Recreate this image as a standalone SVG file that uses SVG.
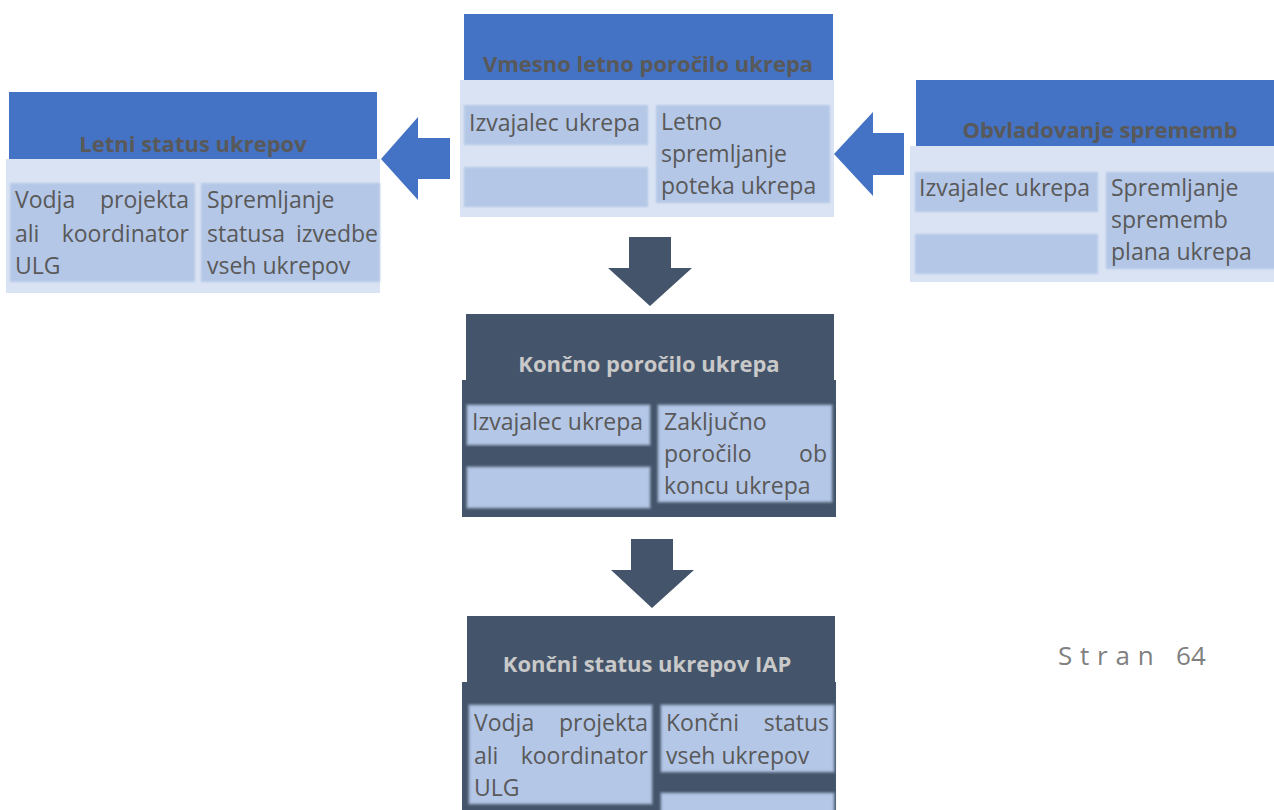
<svg xmlns="http://www.w3.org/2000/svg" width="1274" height="810" viewBox="0 0 1274 810">
<defs>
<filter id="soft" x="-5%" y="-5%" width="110%" height="110%"><feGaussianBlur stdDeviation="0.9"/></filter>
</defs>
<style>
.hb{fill:#4472C4}
.bl{fill:#DAE3F3}
.hd{fill:#44546A}
.cell{fill:#B4C7E7;filter:url(#soft)}
.celld{fill:#B4C7E7;stroke:#8497B0;stroke-width:1.5;filter:url(#soft)}
.t{font-family:"Open Sans","Liberation Sans",sans-serif;font-weight:700;font-size:22px;text-anchor:middle}
.tl{fill:#595959}
.td{fill:#C9C9C9}
.b{font-family:"Open Sans","Liberation Sans",sans-serif;font-size:23px;fill:#595959}
.e{text-anchor:end}
.ab{fill:#4472C4}
.ad{fill:#44546A}
.pg{font-family:"Open Sans","Liberation Sans",sans-serif;font-size:26px;fill:#808080}
</style>
<rect width="1274" height="810" fill="#FFFFFF"/>
<g id="connectors">
<polygon class="ab" points="381,159 418,117 418,138 450,138 450,179 418,179 418,200"/>
<polygon class="ab" points="834,154 873,112 873,133 904,133 904,175 873,175 873,196"/>
<polygon class="ad" points="629,237 671,237 671,268 692,268 650,306 608,268 629,268"/>
<polygon class="ad" points="631,539 673,539 673,570 694,570 652,608 611,570 631,570"/>
</g>
<g id="node-letni-status">
<rect class="hb" x="9" y="92" width="368" height="67"/>
<rect class="bl" x="6" y="159" width="374" height="134"/>
<text class="t tl" x="193" y="152">Letni status ukrepov</text>
<rect class="cell" x="10" y="183" width="185" height="99"/>
<rect class="cell" x="201" y="183" width="179" height="99"/>
<text class="b" x="15" y="208">Vodja</text><text class="b e" x="189" y="208">projekta</text>
<text class="b" x="15" y="242">ali</text><text class="b e" x="189" y="242">koordinator</text>
<text class="b" x="15" y="274">ULG</text>
<text class="b" x="207" y="208">Spremljanje</text>
<text class="b" x="207" y="242">statusa</text><text class="b e" x="378" y="242">izvedbe</text>
<text class="b" x="207" y="274">vseh ukrepov</text>
</g>
<g id="node-vmesno">
<rect class="hb" x="464" y="14" width="369" height="66"/>
<rect class="bl" x="460" y="80" width="374" height="137"/>
<text class="t tl" x="648" y="72">Vmesno letno poročilo ukrepa</text>
<rect class="cell" x="464" y="105" width="184" height="40"/>
<rect class="cell" x="464" y="167" width="184" height="40"/>
<rect class="cell" x="656" y="105" width="174" height="98"/>
<text class="b" x="469" y="131">Izvajalec ukrepa</text>
<text class="b" x="661" y="130">Letno</text>
<text class="b" x="661" y="162">spremljanje</text>
<text class="b" x="661" y="194">poteka ukrepa</text>
</g>
<g id="node-obvladovanje">
<rect class="hb" x="916" y="80" width="358" height="66"/>
<rect class="bl" x="910" y="146" width="364" height="136"/>
<text class="t tl" x="1100" y="138">Obvladovanje sprememb</text>
<rect class="cell" x="915" y="172" width="183" height="40"/>
<rect class="cell" x="915" y="234" width="183" height="40"/>
<rect class="cell" x="1106" y="172" width="170" height="97"/>
<text class="b" x="919" y="196">Izvajalec ukrepa</text>
<text class="b" x="1111" y="196">Spremljanje</text>
<text class="b" x="1111" y="228">sprememb</text>
<text class="b" x="1111" y="260">plana ukrepa</text>
</g>
<g id="node-koncno-porocilo">
<rect class="hd" x="466" y="314" width="368" height="66"/>
<rect class="hd" x="462" y="380" width="374" height="137"/>
<text class="t td" x="649" y="372">Končno poročilo ukrepa</text>
<rect class="celld" x="467" y="405" width="183" height="40"/>
<rect class="celld" x="467" y="467" width="183" height="41"/>
<rect class="celld" x="658" y="405" width="174" height="97"/>
<text class="b" x="472" y="430">Izvajalec ukrepa</text>
<text class="b" x="664" y="430">Zaključno</text>
<text class="b" x="664" y="462">poročilo</text><text class="b e" x="827" y="462">ob</text>
<text class="b" x="664" y="494">koncu ukrepa</text>
</g>
<g id="node-koncni-status">
<rect class="hd" x="467" y="616" width="368" height="66"/>
<rect class="hd" x="462" y="682" width="374" height="130"/>
<text class="t td" x="647" y="672">Končni status ukrepov IAP</text>
<rect class="celld" x="469" y="705" width="183" height="99"/>
<rect class="celld" x="661" y="705" width="173" height="67"/>
<rect class="celld" x="661" y="793" width="173" height="30"/>
<text class="b" x="474" y="731">Vodja</text><text class="b e" x="648" y="731">projekta</text>
<text class="b" x="474" y="764">ali</text><text class="b e" x="648" y="764">koordinator</text>
<text class="b" x="474" y="796">ULG</text>
<text class="b" x="666" y="731">Končni</text><text class="b e" x="829" y="731">status</text>
<text class="b" x="666" y="764">vseh ukrepov</text>
</g>
<g id="page-number">
<text class="pg" x="1058" y="665"><tspan letter-spacing="7.8">Stran </tspan>64</text>
</g>
</svg>
